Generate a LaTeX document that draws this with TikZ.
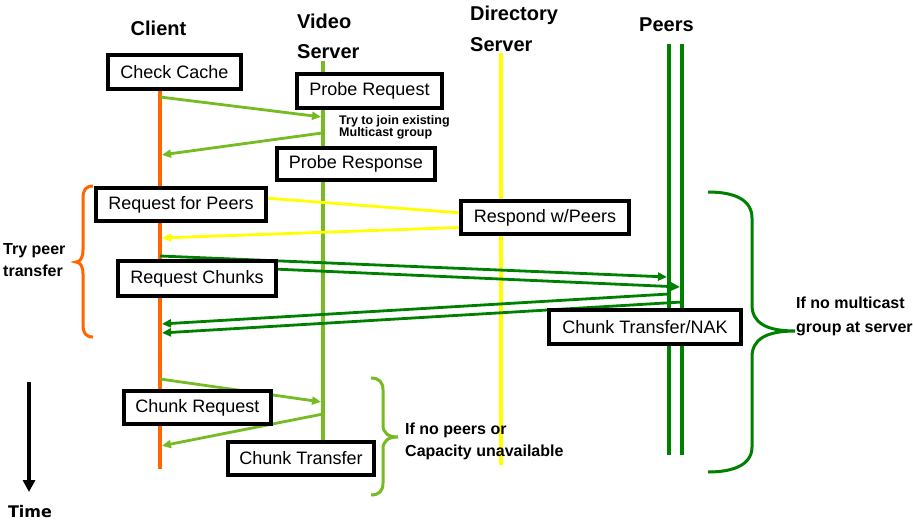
\documentclass[tikz,border=0pt]{standalone}
\usepackage{fontspec}
\setmainfont{Liberation Sans}
\newfontfamily\timefont{DejaVu Sans}
\usetikzlibrary{arrows.meta}
\definecolor{corange}{RGB}{255,102,0}
\definecolor{lgreen}{RGB}{119,187,34}
\definecolor{cyellow}{RGB}{255,255,0}
\definecolor{dgreen}{RGB}{0,128,0}
\begin{document}
\begin{tikzpicture}[x=1pt,y=-1pt,
  lifeline/.style={line width=3.8pt},
  msg/.style={line width=2.8pt,-{Triangle[length=9pt,width=8pt]},shorten >=1pt},
  stepbox/.style={draw=black,line width=4.4pt,fill=white,font=\fontsize{18}{20}\selectfont,inner sep=0pt,anchor=center},
  title/.style={font=\fontsize{20}{22}\selectfont\bfseries,anchor=base west,inner sep=0pt},
  note/.style={font=\fontsize{16}{19}\selectfont\bfseries,anchor=base west,inner sep=0pt},
  smallnote/.style={font=\fontsize{12.5}{13}\selectfont\bfseries,anchor=base west,inner sep=0pt},
  brace/.style={line width=3pt}
]
\useasboundingbox (0,0) rectangle (913,522);
\fill[white] (0,0) rectangle (913,522);

% headers
\node[title,anchor=base] (hclient) at (158.5,35) {Client};
\node[title] (hvideo1) at (297,28) {Video};
\node[title] (hvideo2) at (297,58) {Server};
\node[title] (hdir1) at (470,20.5) {Directory};
\node[title] (hdir2) at (470,51.5) {Server};
\node[title] (hpeers) at (639,31.5) {Peers};

% lifeline end points
\coordinate (ct) at (160,90);   \coordinate (cb) at (160,469);
\coordinate (vt) at (323,61);   \coordinate (vb) at (323,440);
\coordinate (dt) at (501,53);   \coordinate (db) at (501,465);
\coordinate (pat) at (669,44);  \coordinate (pab) at (669,455);
\coordinate (pbt) at (682,44);  \coordinate (pbb) at (682,455);

\draw[lifeline,corange] (ct) -- (cb);
\draw[lifeline,lgreen] (vt) -- (vb);
\draw[lifeline,cyellow] (dt) -- (db);
\draw[lifeline,dgreen] (pat) -- (pab);
\draw[lifeline,dgreen] (pbt) -- (pbb);

% message points
\coordinate (m1s) at (160,97);  \coordinate (m1e) at (322,117);
\coordinate (m2s) at (322,133); \coordinate (m2e) at (161,155);
\coordinate (m3s) at (160,190); \coordinate (m3e) at (501,216);
\coordinate (m4s) at (501,226); \coordinate (m4e) at (161,238);
\coordinate (m5s) at (160,256); \coordinate (m5e) at (668,277);
\coordinate (m6s) at (160,264); \coordinate (m6e) at (681,287);
\coordinate (m7s) at (669,294); \coordinate (m7e) at (161,324);
\coordinate (m8s) at (682,302); \coordinate (m8e) at (161,333);
\coordinate (m9s) at (160,379); \coordinate (m9e) at (322,402);
\coordinate (m10s) at (323,414); \coordinate (m10e) at (161,446);

\draw[msg,lgreen] (m1s) -- (m1e);
\draw[msg,lgreen] (m2s) -- (m2e);
\draw[msg,cyellow] (m3s) -- (m3e);
\draw[msg,cyellow] (m4s) -- (m4e);
\draw[msg,dgreen] (m5s) -- (m5e);
\draw[msg,dgreen] (m6s) -- (m6e);
\draw[msg,dgreen] (m7s) -- (m7e);
\draw[msg,dgreen] (m8s) -- (m8e);
\draw[msg,lgreen] (m9s) -- (m9e);
\draw[msg,lgreen] (m10s) -- (m10e);

% boxes
\node[stepbox,minimum width=132.6pt,minimum height=33.6pt] (checkcache) at (174.5,72) {Check Cache};
\node[stepbox,minimum width=144.6pt,minimum height=33.6pt] (probereq) at (369.5,91) {Probe Request};
\node[stepbox,minimum width=157.6pt,minimum height=31.6pt] (proberesp) at (356,164) {Probe Response};
\node[stepbox,minimum width=169.6pt,minimum height=32.6pt] (reqpeers) at (181,204.5) {Request for Peers};
\node[stepbox,minimum width=167.6pt,minimum height=32.6pt] (resppeers) at (545,217.5) {Respond w/Peers};
\node[stepbox,minimum width=157.6pt,minimum height=34.6pt] (reqchunks) at (197,278.5) {Request Chunks};
\node[stepbox,minimum width=191.6pt,minimum height=33.6pt] (chunknak) at (645,327) {Chunk Transfer/NAK};
\node[stepbox,minimum width=146.6pt,minimum height=32.6pt] (chunkreq) at (197.5,407.5) {Chunk Request};
\node[stepbox,minimum width=145.6pt,minimum height=32.6pt] (chunktr) at (301,458.5) {Chunk Transfer};

% notes
\node[smallnote] (join1) at (339,124) {Try to join existing};
\node[smallnote] (join2) at (339,136) {Multicast group};
\node[note] (try1) at (3,254) {Try peer};
\node[note] (try2) at (3,276) {transfer};
\node[note] (nomc1) at (796,308) {If no multicast};
\node[note] (nomc2) at (796,332) {group at server};
\node[note] (nop1) at (405,434) {If no peers or};
\node[note] (nop2) at (405,456) {Capacity unavailable};

% braces
\draw[brace,corange] (93,186) .. controls (86,186) and (83,190) .. (83,198) -- (83,250)
  .. controls (83,258) and (80,262) .. (76,262) .. controls (80,262) and (83,266) .. (83,274)
  -- (83,325) .. controls (83,333) and (86,337) .. (93,337);
\draw[brace,lgreen] (371,378) .. controls (379,378) and (383,382) .. (383,390) -- (383,425)
  .. controls (383,433) and (388,437) .. (398,437) .. controls (388,437) and (383,441) .. (383,449)
  -- (383,483) .. controls (383,491) and (379,495) .. (371,495);
\draw[brace,dgreen] (708,192) .. controls (735,192) and (752,200) .. (752,218) -- (752,305)
  .. controls (752,322) and (765,331) .. (795,331) .. controls (765,331) and (752,340) .. (752,357)
  -- (752,447) .. controls (752,464) and (735,472) .. (708,472);

% time arrow
\coordinate (tt) at (29,382);
\coordinate (tb) at (29,492);
\draw[line width=4pt,-{Triangle[length=12pt,width=12pt]}] (tt) -- (tb);
\node[font=\timefont\fontsize{16}{18}\selectfont\bfseries,anchor=base,inner sep=0pt] (time) at (30,517) {Time};
\end{tikzpicture}
\end{document}
